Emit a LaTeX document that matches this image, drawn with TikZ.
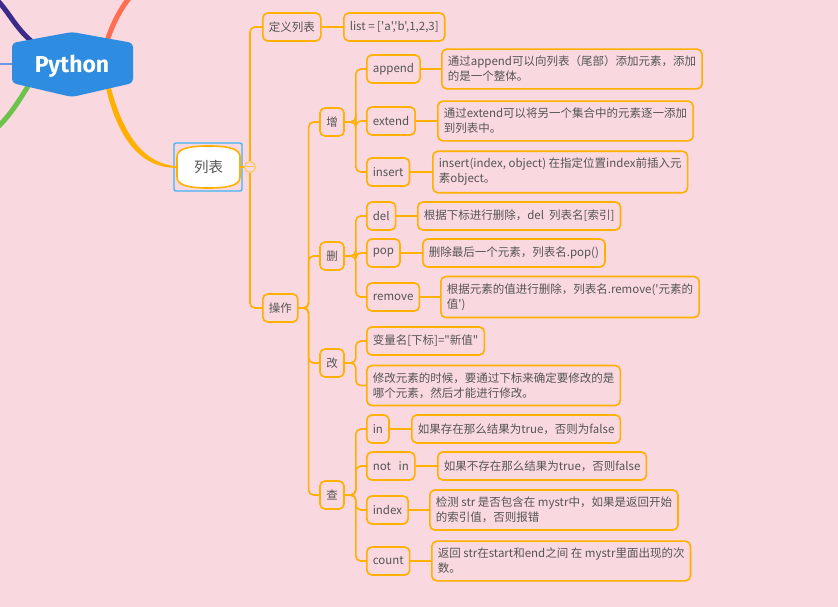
\documentclass[tikz,border=0pt]{standalone}
\usepackage{fontspec}
\setmainfont{Noto Sans CJK SC}[Ligatures=TeXOff]
\newfontfamily\pyfont{Fira Sans}
\usepackage{tikz}
\definecolor{bg}{HTML}{F9D8DF}
\definecolor{orange}{HTML}{FFB000}
\definecolor{txtgrey}{HTML}{555555}
\definecolor{pyblue}{HTML}{2E8DE1}
\definecolor{selblue}{HTML}{40B4F5}
\definecolor{purpleline}{HTML}{3B2A8A}
\definecolor{redline}{HTML}{FF6E50}
\definecolor{greenline}{HTML}{6DC24B}
\definecolor{blueline}{HTML}{6C95E3}

\begin{document}
\begin{tikzpicture}[x=1pt, y=-1pt,
    link/.style={draw=orange, line width=1.6pt, rounded corners=5pt},
    box/.style={draw=orange, line width=1.6pt, rounded corners=5pt, text=txtgrey,
      font=\fontsize{11.5}{15}\selectfont, inner xsep=6pt, inner ysep=7pt,
      minimum height=28pt, align=left, anchor=west},
    cat/.style={box, anchor=center, minimum width=24pt, inner xsep=5pt}]
  \fill[bg] (0,0) rectangle (838,607);
  \useasboundingbox (0,0) rectangle (838,607);

  % centre topic 列表
  \draw[selblue, line width=1.4pt, rounded corners=2pt] (174,143) rectangle (242,191);
  \draw[orange, line width=1.6pt, fill=white]
    (177,157) .. controls (177,150) and (185,146) .. (208.5,146)
    .. controls (232,146) and (240,150) .. (240,157) -- (240,177)
    .. controls (240,184) and (232,188) .. (208.5,188)
    .. controls (185,188) and (177,184) .. (177,177) -- cycle;
  \node[text=txtgrey, font=\fontsize{14.5}{16}\selectfont, minimum width=63pt,
    minimum height=42pt, inner sep=0pt] (liebiao) at (208.5,167) {列表};

  % branches leaving the Python topic
  \coordinate (pycentre) at (72,64);
  \coordinate (purpleend) at (-3,0);
  \coordinate (redend) at (130,-3);
  \coordinate (greenend) at (-3,128);
  \coordinate (blueend) at (-3,64);
  \coordinate (yroot) at (108,86);
  \draw[purpleline, line width=5pt] (purpleend) .. controls (15,18) and (20,45) .. (pycentre);
  \draw[redline, line width=5pt] (redend) .. controls (118,12) and (106,35) .. ([xshift=30pt]pycentre);
  \draw[greenline, line width=5pt] (greenend) .. controls (15,110) and (22,95) .. ([xshift=-30pt]pycentre);
  \draw[blueline, line width=2.5pt] (blueend) -- (pycentre);
  \fill[orange] ([xshift=-2.5pt]yroot) .. controls (117,137) and (140,168.5) .. ([yshift=-0.8pt]liebiao.west)
    -- ([yshift=0.8pt]liebiao.west) .. controls (144,164) and (123,135) .. ([xshift=2.5pt]yroot) -- cycle;

  % Python topic
  \fill[pyblue, rounded corners=4pt] (12,43) -- (72,32) -- (133,43) -- (133,83) -- (72,97) -- (12,83) -- cycle;
  \node[text=white, anchor=base, font=\pyfont\bfseries\fontsize{23}{26}\selectfont] (python) at (72,72.5) {Python};

  % fold button and first level
  \node[circle, draw=orange!70, line width=1pt, fill=bg, minimum size=11pt, inner sep=0pt,
    path picture={\draw[orange!70, line width=1pt]
      ([xshift=-4pt]path picture bounding box.center) -- ([xshift=4pt]path picture bounding box.center);}]
    (fold) at (250,167) {};
  \draw[link] (liebiao.east) -- (fold.west);

  \node[box] (dingyi) at (262,27) {定义列表};
  \node[box] (listdef) at (343,27) {list = ['a','b',1,2,3]};
  \node[box] (caozuo) at (262,308) {操作};
  \draw[link] (fold.north) |- (dingyi.west);
  \draw[link] (fold.south) |- (caozuo.west);
  \draw[link] (dingyi) -- (listdef);

  % 增 删 改 查
  \node[cat] (zeng) at (332,122) {增};
  \node[cat] (shan) at (332,256) {删};
  \node[cat] (gai) at (332,363) {改};
  \node[cat] (cha) at (332,495) {查};
  \foreach \c in {zeng,shan,gai,cha}
    \draw[link] (caozuo.east) -- ++(10,0) |- (\c.west);

  \foreach \cat/\nm/\lbl/\y/\dx/\txt in {%
    zeng/app/append/69/441/{通过append可以向列表（尾部）添加元素，添加\\的是一个整体。},
    zeng/ext/extend/121/437/{通过extend可以将另一个集合中的元素逐一添加\\到列表中。},
    zeng/ins/insert/172/432/{insert(index, object) 在指定位置index前插入元\\素object。},
    shan/del/del/216/417/{根据下标进行删除，del\ \ 列表名[索引]},
    shan/pop/pop/253/422/{删除最后一个元素，列表名.pop()},
    shan/rem/remove/297/440/{根据元素的值进行删除，列表名.remove('元素的\\值')},
    cha/isin/in/429/411/{如果存在那么结果为true，否则为false},
    cha/notin/{not\ \ \ in}/466/437/{如果不存在那么结果为true，否则false},
    cha/idx/index/510/429/{检测 str 是否包含在 mystr中，如果是返回开始\\的索引值，否则报错},
    cha/cnt/count/561/431/{返回 str在start和end之间 在 mystr里面出现的次\\数。}%
    } {
    \node[box] (\nm) at (366,\y) {\lbl};
    \node[box] (\nm-txt) at (\dx,\y) {\txt};
    \draw[link] (\nm) -- (\nm-txt);
    \draw[link] (\cat.east) -- ++(11,0) |- (\nm.west);
  }

  \node[box] (gaione) at (366,341) {变量名[下标]="新值"};
  \node[box] (gaitwo) at (366,385.5) {修改元素的时候，要通过下标来确定要修改的是\\哪个元素，然后才能进行修改。};
  \foreach \b in {gaione,gaitwo}
    \draw[link] (gai.east) -- ++(11,0) |- (\b.west);
\end{tikzpicture}
\end{document}
